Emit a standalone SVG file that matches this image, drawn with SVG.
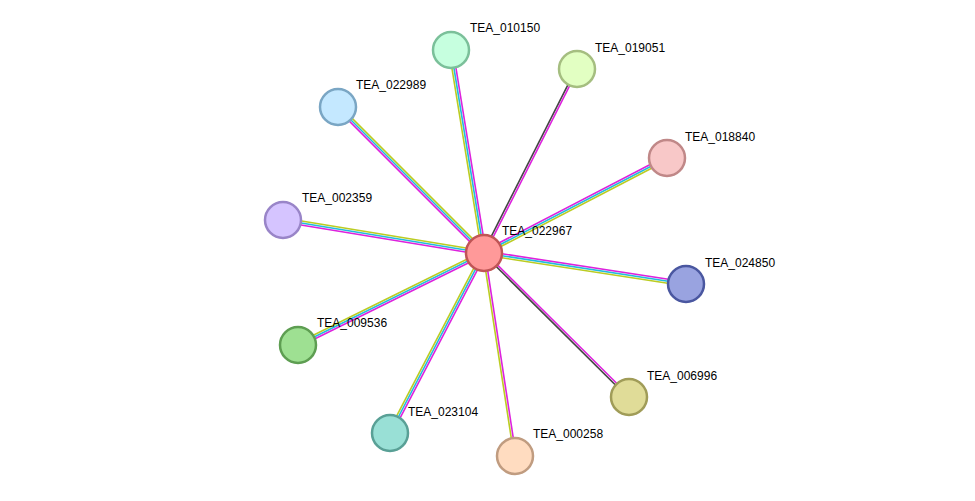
<svg xmlns="http://www.w3.org/2000/svg" width="975" height="501" viewBox="0 0 975 501">
<style>
.m{stroke:#dd22dd}.c{stroke:#22bbdd}.y{stroke:#bbcc22}.k{stroke:#444}
#edges line{stroke-width:1.6}
circle{stroke-width:2.5}
text{font-family:"Liberation Sans",Arial,sans-serif;font-size:12px;fill:#000}
</style>
<rect width="975" height="501" fill="#fff"/>
<g id="edges">
<line class="m" x1="484" y1="253" x2="451" y2="50" transform="translate(1.97,-0.32)"/>
<line class="c" x1="484" y1="253" x2="451" y2="50"/>
<line class="y" x1="484" y1="253" x2="451" y2="50" transform="translate(-1.97,0.32)"/>
<line class="k" x1="484" y1="253" x2="577" y2="69" transform="translate(-0.89,-0.45)"/>
<line class="m" x1="484" y1="253" x2="577" y2="69" transform="translate(0.89,0.45)"/>
<line class="y" x1="484" y1="253" x2="338" y2="107" transform="translate(1.41,-1.41)"/>
<line class="c" x1="484" y1="253" x2="338" y2="107"/>
<line class="m" x1="484" y1="253" x2="338" y2="107" transform="translate(-1.41,1.41)"/>
<line class="m" x1="484" y1="253" x2="667" y2="158" transform="translate(-0.92,-1.78)"/>
<line class="c" x1="484" y1="253" x2="667" y2="158"/>
<line class="y" x1="484" y1="253" x2="667" y2="158" transform="translate(0.92,1.78)"/>
<line class="y" x1="484" y1="253" x2="283" y2="220" transform="translate(0.32,-1.97)"/>
<line class="c" x1="484" y1="253" x2="283" y2="220"/>
<line class="m" x1="484" y1="253" x2="283" y2="220" transform="translate(-0.32,1.97)"/>
<line class="m" x1="484" y1="253" x2="686" y2="284" transform="translate(0.30,-1.98)"/>
<line class="c" x1="484" y1="253" x2="686" y2="284"/>
<line class="y" x1="484" y1="253" x2="686" y2="284" transform="translate(-0.30,1.98)"/>
<line class="y" x1="484" y1="253" x2="298" y2="345" transform="translate(-0.89,-1.79)"/>
<line class="c" x1="484" y1="253" x2="298" y2="345"/>
<line class="m" x1="484" y1="253" x2="298" y2="345" transform="translate(0.89,1.79)"/>
<line class="m" x1="484" y1="253" x2="629" y2="397" transform="translate(0.71,-0.71)"/>
<line class="k" x1="484" y1="253" x2="629" y2="397" transform="translate(-0.71,0.71)"/>
<line class="y" x1="484" y1="253" x2="390" y2="433" transform="translate(-1.77,-0.93)"/>
<line class="c" x1="484" y1="253" x2="390" y2="433"/>
<line class="m" x1="484" y1="253" x2="390" y2="433" transform="translate(1.77,0.93)"/>
<line class="y" x1="484" y1="253" x2="515" y2="456" transform="translate(-0.99,0.15)"/>
<line class="m" x1="484" y1="253" x2="515" y2="456" transform="translate(0.99,-0.15)"/>
</g>
<g id="n010150"><circle cx="451" cy="50" r="18" fill="#c6ffdf" stroke="#7bc09a"/><text x="470" y="32">TEA_010150</text></g>
<g id="n019051"><circle cx="577" cy="69" r="18" fill="#e2ffc2" stroke="#a5be80"/><text x="595" y="52">TEA_019051</text></g>
<g id="n022989"><circle cx="338" cy="107" r="18" fill="#c4e8ff" stroke="#7aa6c4"/><text x="356" y="89">TEA_022989</text></g>
<g id="n018840"><circle cx="667" cy="158" r="18" fill="#f8c8c8" stroke="#c08888"/><text x="685" y="141">TEA_018840</text></g>
<g id="n002359"><circle cx="283" cy="220" r="18" fill="#d5c4ff" stroke="#9985c8"/><text x="302" y="202">TEA_002359</text></g>
<g id="n024850"><circle cx="686" cy="284" r="18" fill="#99a3e0" stroke="#4a57a0"/><text x="705" y="267">TEA_024850</text></g>
<g id="n009536"><circle cx="298" cy="345" r="18" fill="#9ee092" stroke="#5e9e52"/><text x="317" y="327">TEA_009536</text></g>
<g id="n006996"><circle cx="629" cy="397" r="18" fill="#e0dc98" stroke="#a09c58"/><text x="647" y="380">TEA_006996</text></g>
<g id="n023104"><circle cx="390" cy="433" r="18" fill="#99e0d6" stroke="#59a096"/><text x="408" y="416">TEA_023104</text></g>
<g id="n000258"><circle cx="515" cy="456" r="18" fill="#ffdcc0" stroke="#c09c80"/><text x="533" y="438">TEA_000258</text></g>
<g id="n022967"><circle cx="484" cy="253" r="18" fill="#ff9999" stroke="#c05555"/><text x="502" y="235">TEA_022967</text></g>
</svg>
